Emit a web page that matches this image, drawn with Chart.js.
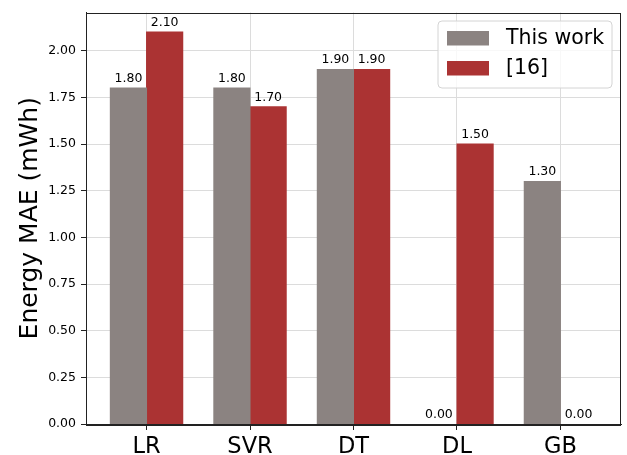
<!DOCTYPE html>
<html>
<head>
<meta charset="utf-8">
<script src="https://cdn.jsdelivr.net/npm/chart.js@4.4.0/dist/chart.umd.min.js"></script>
<style>
    html, body { margin: 0; padding: 0; background: #fff; }
    #wrap { width: 627px; height: 455px; position: relative; }
</style>
</head>
<body>
<div id="wrap"><canvas id="mae-chart"></canvas></div>
<script>
const categories = ['LR', 'SVR', 'DT', 'DL', 'GB'];
const thisWork = [1.80, 1.80, 1.90, 0.00, 1.30];
const ref16 = [2.10, 1.70, 1.90, 1.50, 0.00];
const seriesNames = ['This work', '[16]'];
const yTickValues = [0, 0.25, 0.5, 0.75, 1.0, 1.25, 1.5, 1.75, 2.0];

const GRAY = '#8b8381';
const RED = '#ab3333';
const FONT = 'DejaVu Sans';

// value labels above each bar
const barLabels = {
    id: 'barLabels',
    afterDatasetsDraw(chart) {
        const ctx = chart.ctx;
        ctx.save();
        ctx.font = `12.5px "${FONT}"`;
        ctx.fillStyle = '#000';
        ctx.textAlign = 'center';
        ctx.textBaseline = 'alphabetic';
        chart.data.datasets.forEach((ds, di) => {
            chart.getDatasetMeta(di).data.forEach((el, i) => {
                ctx.fillText(ds.data[i].y.toFixed(2), el.x, el.y - 6);
            });
        });
        ctx.restore();
    }
};

// top/right spines and the boxed legend
const frameAndLegend = {
    id: 'frameAndLegend',
    afterDraw(chart) {
        const ctx = chart.ctx;
        const a = chart.chartArea;
        ctx.save();
        ctx.strokeStyle = '#222';
        ctx.lineWidth = 1;
        ctx.strokeRect(Math.round(a.left) + 0.5, Math.round(a.top) + 0.5,
            Math.round(a.right - a.left) - 1, Math.round(a.bottom - a.top));

        // legend box
        const bx = 438, by = 21, bw = 174, bh = 67, r = 4;
        ctx.beginPath();
        ctx.moveTo(bx + r, by);
        ctx.arcTo(bx + bw, by, bx + bw, by + bh, r);
        ctx.arcTo(bx + bw, by + bh, bx, by + bh, r);
        ctx.arcTo(bx, by + bh, bx, by, r);
        ctx.arcTo(bx, by, bx + bw, by, r);
        ctx.closePath();
        ctx.fillStyle = 'rgba(255,255,255,0.8)';
        ctx.fill();
        ctx.strokeStyle = '#d4d4d4';
        ctx.stroke();

        ctx.font = `20.5px "${FONT}"`;
        ctx.textAlign = 'left';
        ctx.textBaseline = 'middle';
        chart.data.datasets.forEach((ds, di) => {
            const y = 31 + di * 30;
            ctx.fillStyle = ds.backgroundColor;
            ctx.fillRect(447, y, 42, 14.5);
            ctx.fillStyle = '#000';
            ctx.fillText(ds.label, 506, y + 7.5);
        });
        ctx.restore();
    }
};

const inflate = c => (c.raw && c.raw.y === 0 ? 0 : 0.5);

const ctx = document.getElementById('mae-chart').getContext('2d');
new Chart(ctx, {
    type: 'bar',
    data: {
        datasets: [
            {
                label: seriesNames[0],
                data: categories.map((c, i) => ({ x: i, y: thisWork[i] })),
                backgroundColor: GRAY,
                borderWidth: 0,
                inflateAmount: inflate,
            },
            {
                label: seriesNames[1],
                data: categories.map((c, i) => ({ x: i, y: ref16[i] })),
                backgroundColor: RED,
                borderWidth: 0,
                inflateAmount: inflate,
            }
        ]
    },
    options: {
        responsive: true,
        maintainAspectRatio: false,
        animation: false,
        devicePixelRatio: 1,
        categoryPercentage: 0.7,
        barPercentage: 1.0,
        layout: {
            padding: { top: 12, right: 6, left: 0, bottom: 0 }
        },
        plugins: {
            legend: { display: false },
            tooltip: { enabled: false }
        },
        scales: {
            x: {
                type: 'linear',
                offset: false,
                min: -0.585,
                max: 4.585,
                afterBuildTicks: scale => {
                    scale.ticks = categories.map((c, i) => ({ value: i }));
                },
                afterFit: scale => { scale.height = 31; },
                ticks: {
                    callback: v => categories[v],
                    color: '#000',
                    padding: 4,
                    autoSkip: false,
                    maxRotation: 0,
                    font: { family: FONT, size: 22.5 }
                },
                grid: {
                    offset: false,
                    color: '#dcdcdc',
                    tickColor: '#222',
                    tickLength: 6,
                },
                border: { color: '#222', width: 1 }
            },
            y: {
                min: 0,
                max: 2.205,
                afterBuildTicks: scale => {
                    scale.ticks = yTickValues.map(v => ({ value: v }));
                },
                afterFit: scale => { scale.width = 86; },
                ticks: {
                    callback: v => v.toFixed(2),
                    color: '#000',
                    padding: 5,
                    font: { family: FONT, size: 12.5 }
                },
                grid: {
                    color: '#dcdcdc',
                    tickColor: '#222',
                    tickLength: 5,
                },
                border: { color: '#222', width: 1 },
                title: {
                    display: true,
                    text: 'Energy MAE (mWh)',
                    color: '#000',
                    padding: { top: 15, bottom: 0 },
                    font: { family: FONT, size: 25 }
                }
            }
        }
    },
    plugins: [barLabels, frameAndLegend]
});
</script>
</body>
</html>
